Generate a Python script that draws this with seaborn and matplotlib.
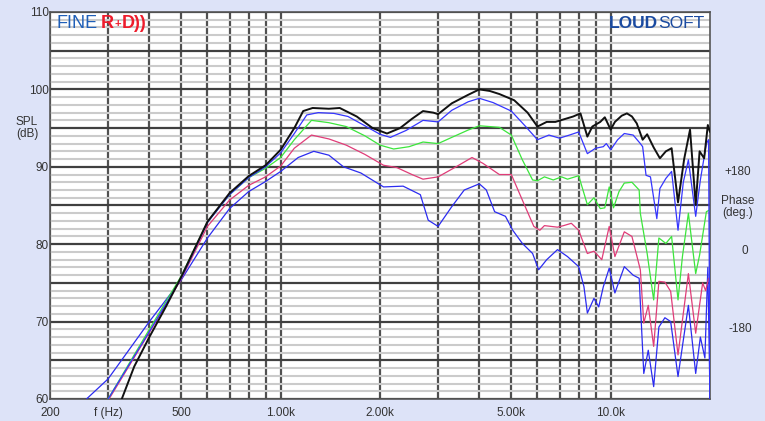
import numpy as np
import pandas as pd
import seaborn as sns
import matplotlib.pyplot as plt
from matplotlib.ticker import FixedLocator, FixedFormatter, MultipleLocator, FuncFormatter

# response curves (Hz, dB SPL)
freq_black = [330, 360, 400, 450, 500, 600, 700, 800, 900, 1000, 1100, 1170, 1250, 1400, 1510, 1700,
              1900, 2100, 2300, 2500, 2700, 2900, 3000, 3300, 3700, 4000, 4300, 4600, 5100, 5600,
              6000, 6400, 6800, 7300, 7700, 8100, 8500, 8800, 9300, 9600, 10000, 10300, 10800,
              11200, 11600, 12000, 12500, 12900, 13500, 14100, 14700, 15300, 16000, 16700, 17400,
              18100, 18600, 19200, 19700, 20000]
spl_black = [60.0, 64.2, 68.0, 72.0, 75.8, 82.9, 86.6, 88.8, 90.2, 92.2, 95.0, 97.2, 97.6, 97.5, 97.6, 96.5,
             95.0, 94.3, 95.0, 96.2, 97.2, 97.0, 96.8, 98.2, 99.3, 100.0, 99.8, 99.4, 98.6, 97.0,
             95.2, 95.8, 95.8, 96.2, 96.5, 96.9, 93.9, 95.2, 95.8, 96.4, 94.8, 95.8, 96.6,
             96.9, 96.5, 95.6, 93.5, 94.2, 92.5, 91.1, 92.0, 92.4, 85.4, 91.0, 94.8,
             85.1, 92.0, 91.1, 95.4, 94.5]

freq_blue1 = [300, 400, 500, 600, 700, 800, 900, 1000, 1100, 1200, 1300, 1450, 1600, 1800, 2000, 2150,
              2400, 2700, 3000, 3300, 3700, 4000, 4400, 5000, 5500, 6000, 6500, 7000, 7500, 8000,
              8500, 9000, 9500, 9700, 10000, 10500, 11000, 11700, 12300, 12500, 12800, 13200, 13800,
              14100, 14700, 15300, 16000, 16600, 17200, 18100, 18700, 19500, 19800, 20000]
spl_blue1 = [60.0, 68.7, 75.6, 82.8, 86.4, 88.6, 90.0, 91.8, 94.3, 96.7, 97.0, 96.9, 96.5, 95.3, 94.2, 93.8,
             94.7, 96.0, 95.8, 97.3, 98.4, 98.85, 98.3, 97.2, 95.3, 93.5, 94.1, 93.7, 94.1, 94.5,
             91.7, 92.4, 92.6, 93.0, 92.2, 93.5, 94.3, 94.1, 93.0, 92.6, 88.9, 88.7, 83.3,
             87.2, 88.5, 89.4, 81.8, 88.0, 90.9, 83.6, 88.3, 93.0, 93.5, 60.0]

freq_green = [300, 400, 500, 600, 700, 800, 900, 1000, 1100, 1240, 1400, 1580, 1800, 2000, 2200, 2450,
              2700, 3000, 3300, 3700, 4000, 4600, 5000, 5400, 5800, 6000, 6300, 6700, 7100, 7400,
              8000, 8500, 8900, 9300, 9600, 9900, 10200, 10600, 11000, 11600, 12200, 12300, 12900,
              13500, 14000, 14700, 15300, 16000, 16500, 17200, 18100, 18600, 19500, 19900]
spl_green = [60.0, 69.0, 75.9, 82.9, 86.4, 88.6, 89.8, 91.2, 93.5, 96.0, 95.7, 95.2, 94.0, 92.8, 92.3, 92.6,
             93.2, 93.0, 93.8, 94.75, 95.3, 95.1, 94.1, 90.9, 88.3, 88.2, 88.7, 88.3, 88.7, 88.4,
             88.85, 85.1, 86.0, 84.6, 84.7, 87.4, 84.7, 86.8, 87.9, 88.0, 87.0, 84.0, 78.8,
             72.8, 80.8, 80.1, 81.0, 72.8, 78.4, 84.0, 76.2, 78.6, 84.2, 84.4]

freq_pink = [302, 400, 500, 600, 700, 800, 900, 1000, 1100, 1240, 1400, 1580, 1800, 2050, 2250, 2500,
             2700, 3000, 3400, 3800, 4100, 4600, 5000, 5400, 5850, 6100, 6300, 6900, 7200, 7600,
             8000, 8500, 8900, 9400, 9900, 10300, 11000, 11600, 12300, 12600, 13000, 13500, 14000,
             14600, 15200, 16000, 17200, 18100, 19000, 19400, 19800]
spl_pink = [60.0, 68.6, 75.5, 82.3, 85.7, 87.6, 88.7, 90.1, 92.4, 94.1, 93.6, 92.8, 91.6, 90.2, 89.9, 89.0,
            88.4, 88.7, 90.0, 91.2, 90.45, 89.0, 89.0, 85.7, 82.3, 81.8, 82.4, 82.2, 82.4, 82.7,
            81.8, 78.8, 79.1, 78.0, 82.3, 78.4, 81.6, 81.0, 76.7, 69.8, 72.1, 66.8, 75.2,
            75.1, 73.9, 65.7, 76.2, 68.5, 75.0, 74.0, 75.6]

freq_blue2 = [258, 300, 400, 500, 600, 700, 800, 900, 1000, 1130, 1260, 1400, 1550, 1750, 2050, 2350,
              2650, 2800, 3000, 3300, 3600, 4000, 4200, 4450, 4800, 5050, 5400, 5800, 6050, 6400,
              6900, 7400, 8000, 8300, 8500, 8900, 9200, 9500, 9900, 10300, 11000, 11700, 12200,
              12600, 13000, 13500, 14000, 14600, 15200, 16000, 17200, 18100, 18700, 19300, 19700, 20000]
spl_blue2 = [60.0, 62.6, 70.0, 75.4, 80.8, 84.6, 86.8, 88.1, 89.4, 91.2, 92.0, 91.5, 90.0, 89.2, 87.4, 87.5,
             86.4, 83.1, 82.3, 84.85, 87.0, 87.8, 87.0, 84.2, 83.6, 81.8, 80.1, 78.8, 76.7, 78.0,
             79.3, 78.4, 77.1, 74.5, 71.1, 73.0, 71.9, 74.5, 76.9, 73.7, 77.1, 76.0, 75.6,
             63.3, 66.3, 61.6, 69.3, 70.5, 70.0, 62.9, 72.1, 63.3, 68.0, 65.3, 77.0, 60.0]

x_ticks = [200, 300, 400, 500, 600, 700, 800, 900, 1000, 2000, 3000, 4000, 5000, 6000, 7000, 8000, 9000, 10000]
x_labels = ['200', 'f (Hz)', '', '500', '', '', '', '', '1.00k', '2.00k', '', '', '5.00k', '', '', '', '', '10.0k']

sns.set_style("white")
plt.rcParams['font.family'] = ['Liberation Sans', 'DejaVu Sans']

bg = '#dde3f8'
fig = plt.figure(figsize=(7.65, 4.21), dpi=100, facecolor=bg)
ax = fig.add_axes([50 / 765, 22 / 421, 660 / 765, 387 / 421])
ax.set_facecolor('white')

curves = [
  (freq_blue2, spl_blue2, '#2b2bf0', 0.9),
  (freq_pink, spl_pink, '#e03c78', 0.9),
  (freq_green, spl_green, '#3ce63c', 0.9),
  (freq_blue1, spl_blue1, '#3535ff', 0.9),
  (freq_black, spl_black, '#111111', 1.4),
]
ax.set_xscale('log')
for f, s, c, lw in curves:
  df = pd.DataFrame({'f': f, 'spl': s})
  sns.lineplot(data=df, x='f', y='spl', ax=ax, color=c, linewidth=lw, sort=False, estimator=None, zorder=3)

ax.set_xlim(200, 20000)
ax.set_ylim(60, 110)

# grid: dark every 5 dB, light every 1 dB, verticals only up to 10k
ax.yaxis.set_major_locator(MultipleLocator(5))
ax.yaxis.set_minor_locator(MultipleLocator(1))
ax.yaxis.set_major_formatter(FuncFormatter(lambda v, p: '%d' % v if v % 10 == 0 else ''))
ax.xaxis.set_major_locator(FixedLocator(x_ticks))
ax.xaxis.set_major_formatter(FixedFormatter(x_labels))
ax.xaxis.set_minor_locator(FixedLocator([]))
ax.grid(which='minor', axis='y', color='#cbcbcb', linewidth=1.5, zorder=0)
ax.grid(which='major', axis='y', color='#404040', linewidth=1.6, zorder=1)
ax.grid(which='major', axis='x', color='#505050', linewidth=1.6, zorder=1)
ax.set_axisbelow(True)

ax.tick_params(axis='both', which='both', length=0, labelsize=8.5, colors='#333333')
ax.tick_params(axis='y', pad=1)
ax.tick_params(axis='x', pad=6)
ax.set_xlabel('')
ax.set_ylabel('')
for sp in ax.spines.values():
  sp.set_color('#555555')
  sp.set_linewidth(1.2)

# side labels
lbl = dict(ha='center', va='center', fontsize=8.5, color='#333333', linespacing=1.1)
fig.text(27 / 765, 1 - 128 / 421, 'SPL\n(dB)', **lbl)
fig.text(738 / 765, 1 - 172 / 421, '+180', **lbl)
fig.text(738 / 765, 1 - 207 / 421, 'Phase\n(deg.)', **lbl)
fig.text(745 / 765, 1 - 251 / 421, '0', **lbl)
fig.text(740 / 765, 1 - 329 / 421, '-180', **lbl)

# logos, each piece placed right after the previous one
red = dict(ha='left', va='center', color='#ee1c2c', fontweight='bold', textcoords='offset points')
t1 = fig.text(57 / 765, 1 - 24 / 421, 'FINE', ha='left', va='center', fontsize=13, color='#1f5fb8')
a2 = ax.annotate('R', xy=(1, 0.5), xycoords=t1, xytext=(2, 0), fontsize=13, **red)
a3 = ax.annotate('+', xy=(1, 0.5), xycoords=a2, xytext=(0.5, 0), fontsize=8, **red)
a4 = ax.annotate('D))', xy=(1, 0.5), xycoords=a3, xytext=(0.5, 0), fontsize=13, **red)

s2 = fig.text(704 / 765, 1 - 24 / 421, 'SOFT', ha='right', va='center', fontsize=12.5, color='#1a4aa0')
ax.annotate('LOUD', xy=(0, 0.5), xycoords=s2, xytext=(0, 0), textcoords='offset points',
            ha='right', va='center', fontsize=12.5, color='#1a4aa0', fontweight='bold')

plt.savefig('out.png', dpi=100, facecolor=bg)
